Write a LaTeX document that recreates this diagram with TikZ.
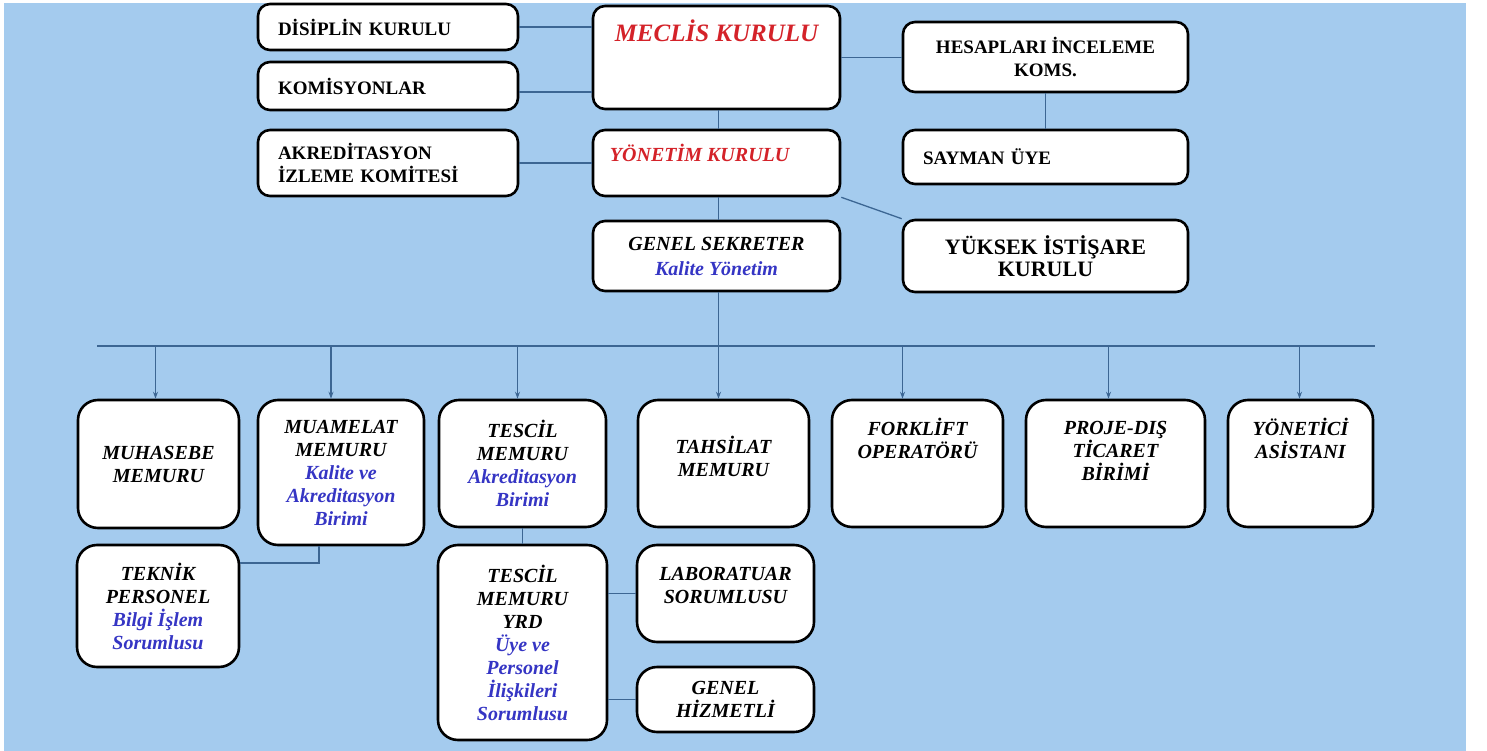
\documentclass[tikz,border=0pt]{standalone}
\usepackage{fontspec}
\setmainfont{Liberation Serif}
\usetikzlibrary{positioning,arrows.meta}
\definecolor{sky_blue}{HTML}{A4CBEE}
\definecolor{line_blue}{HTML}{3C6693}
\definecolor{title_red}{HTML}{D42229}
\definecolor{unit_blue}{HTML}{3535C4}

\tikzset{
  topbox/.style={draw=black, line width=2.6pt, rounded corners=12pt, fill=white,
    inner sep=0pt, align=center, font=\fontsize{19}{23}\selectfont\bfseries},
  leftbox/.style={topbox, align=left},
  unitbox/.style={topbox, rounded corners=20pt,
    font=\fontsize{20}{23}\selectfont\bfseries\itshape},
  unittext/.style={align=center, inner sep=0pt, font=\fontsize{20}{23}\selectfont\bfseries\itshape},
  redtitle/.style={title_red, inner sep=0pt, font=\fontsize{20}{23}\selectfont\bfseries\itshape},
  link/.style={line_blue, line width=1.3pt},
  drop/.style={link, -{Stealth[length=7pt,width=5pt]}},
}

\begin{document}
\begin{tikzpicture}[x=1pt, y=-1pt]
  % Background
  \fill[white] (0,0) rectangle (1487,751);
  \fill[sky_blue] (4,3) rectangle (1466,751);

  % Kurullar (upper part)
  \node[leftbox, minimum width=260pt, minimum height=46pt, text width=220pt] (disiplin) at (388,27) {DİSİPLİN KURULU};
  \node[leftbox, minimum width=260pt, minimum height=48pt, text width=220pt] (komisyon) at (388,86) {KOMİSYONLAR};
  \node[leftbox, minimum width=260pt, minimum height=66pt, text width=220pt] (akredit) at (388,163) {AKREDİTASYON\\İZLEME KOMİTESİ};

  \node[topbox, minimum width=247pt, minimum height=103pt] (meclis) at (716.5,57.5) {};
  \node[redtitle, font=\fontsize{25}{25}\selectfont\bfseries\itshape] (meclis-t) at ([yshift=-26pt]meclis.north) {MECLİS KURULU};
  \node[topbox, minimum width=247pt, minimum height=66pt] (yonetim) at (716.5,163) {};
  \node[redtitle, anchor=west] (yonetim-t) at ([xshift=18pt, yshift=10pt]yonetim.west) {YÖNETİM KURULU};
  \node[topbox, minimum width=247pt, minimum height=70pt, font=\fontsize{20}{25}\selectfont\bfseries\itshape] (genel) at (716.5,256) {GENEL SEKRETER\\{\color{unit_blue}Kalite Yönetim}};

  \node[topbox, minimum width=285pt, minimum height=70pt] (hesap) at (1045.5,57) {HESAPLARI İNCELEME\\KOMS.};
  \node[leftbox, minimum width=285pt, minimum height=54pt, text width=245pt] (sayman) at (1045.5,157) {SAYMAN ÜYE};
  \node[topbox, minimum width=285pt, minimum height=72pt, font=\fontsize{22}{22}\selectfont\bfseries] (yuksek) at (1045.5,256) {YÜKSEK İSTİŞARE\\KURULU};

  % Links between kurullar
  \draw[link] (disiplin.east) -- (meclis.west |- disiplin.east);
  \draw[link] ([yshift=-6pt]komisyon.east) -- ([yshift=-6pt]komisyon.east -| meclis.west);
  \draw[link] (akredit.east) -- (yonetim.west |- akredit.east);
  \draw[link] (meclis.east) -- (hesap.west |- meclis.east);
  \draw[link] (hesap.south) -- (sayman.north);
  \draw[link] ([xshift=2pt]meclis.south) -- ([xshift=2pt]yonetim.north);
  \draw[link] ([xshift=2pt]yonetim.south) -- ([xshift=2pt]genel.north);
  \draw[link] (yonetim.south east) -- (yuksek.north west);

  % Birimler (lower part)
  \node[unitbox, minimum width=161pt, minimum height=128pt] (muhasebe) at (158.5,464) {MUHASEBE\\MEMURU};
  \node[unitbox, minimum width=166pt, minimum height=145pt] (muamelat) at (341,472.5) {MUAMELAT\\MEMURU\\{\color{unit_blue}Kalite ve}\\{\color{unit_blue}Akreditasyon}\\{\color{unit_blue}Birimi}};
  \node[unitbox, minimum width=167pt, minimum height=127pt] (tescil) at (522.5,463.5) {TESCİL\\MEMURU\\{\color{unit_blue}Akreditasyon}\\{\color{unit_blue}Birimi}};
  \node[unitbox, minimum width=171pt, minimum height=127pt] (tahsilat) at (723.5,463.5) {};
  \node[unittext] (tahsilat-t) at ([yshift=7pt]tahsilat.center) {TAHSİLAT\\MEMURU};
  \node[unitbox, minimum width=171pt, minimum height=127pt] (forklift) at (917.5,463.5) {};
  \node[unittext] (forklift-t) at ([yshift=25pt]forklift.center) {FORKLİFT\\OPERATÖRÜ};
  \node[unitbox, minimum width=179pt, minimum height=127pt] (proje) at (1115.5,463.5) {};
  \node[unittext] (proje-t) at ([yshift=13pt]proje.center) {PROJE-DIŞ\\TİCARET\\BİRİMİ};
  \node[unitbox, minimum width=145pt, minimum height=127pt] (yonetici) at (1300.5,463.5) {};
  \node[unittext] (yonetici-t) at ([yshift=25pt]yonetici.center) {YÖNETİCİ\\ASİSTANI};

  \node[unitbox, minimum width=162pt, minimum height=122pt] (teknik) at (158,606) {TEKNİK\\PERSONEL\\{\color{unit_blue}Bilgi İşlem}\\{\color{unit_blue}Sorumlusu}};
  \node[unitbox, minimum width=169pt, minimum height=195pt] (yrd) at (522.5,642.5) {TESCİL\\MEMURU\\YRD\\{\color{unit_blue}Üye ve}\\{\color{unit_blue}Personel}\\{\color{unit_blue}İlişkileri}\\{\color{unit_blue}Sorumlusu}};
  \node[unitbox, minimum width=177pt, minimum height=97pt] (lab) at (725.5,593.5) {};
  \node[unittext] (lab-t) at ([yshift=8pt]lab.center) {LABORATUAR\\SORUMLUSU};
  \node[unitbox, minimum width=177pt, minimum height=65pt] (hizmetli) at (725.5,699.5) {GENEL\\HİZMETLİ};

  % Bus line and drops
  \coordinate (bus-l) at (97,346);
  \coordinate (bus-r) at (1375,346);
  \draw[link] (bus-l) -- (bus-r);
  \draw[drop] ([xshift=2pt]genel.south) -- ([xshift=2pt]genel.south |- tahsilat.north);
  \foreach \unit/\dx in {muhasebe/-3, muamelat/-10, tescil/-5, forklift/-15, proje/-7, yonetici/-1}
    \draw[drop] ([xshift=\dx pt]\unit.north |- bus-l) -- ([xshift=\dx pt]\unit.north);

  % Lower links
  \draw[link] ([xshift=-22pt]muamelat.south) |- ([yshift=43pt]teknik.east);
  \draw[link] (tescil.south) -- (yrd.north);
  \draw[link] (yrd.east |- lab.west) -- (lab.west);
  \draw[link] (yrd.east |- hizmetli.west) -- (hizmetli.west);
\end{tikzpicture}
\end{document}
